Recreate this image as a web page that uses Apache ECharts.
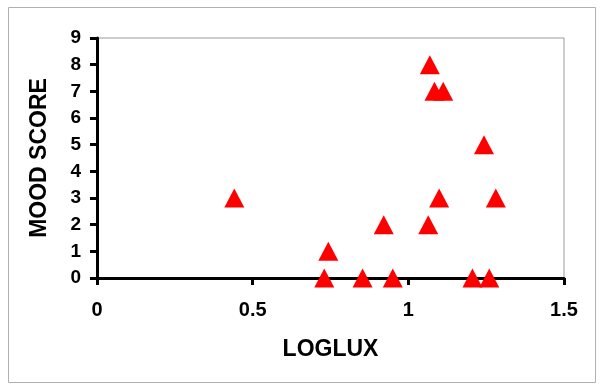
<!DOCTYPE html>
<html><head><meta charset="utf-8">
<script src="https://cdn.jsdelivr.net/npm/echarts@6/dist/echarts.min.js"></script>
<style>html,body{margin:0;padding:0;background:#fff}#c{width:600px;height:387px}</style>
</head><body><div id="c"></div>
<script>
const logLux = [0.441, 0.730, 0.743, 0.853, 0.921, 0.950, 1.064, 1.069, 1.084, 1.112, 1.099, 1.206, 1.243, 1.260, 1.281];
const moodScore = [3, 0, 1, 0, 2, 0, 2, 8, 7, 7, 3, 0, 5, 0, 3];
const xTicks = [0, 0.5, 1, 1.5];
const yTicks = [0, 1, 2, 3, 4, 5, 6, 7, 8, 9];

const chart = echarts.init(document.getElementById('c'));
const font = 'Liberation Sans, Arial, sans-serif';
chart.setOption({
  animation: false,
  graphic: [{type:'rect', shape:{x:8.5,y:7.5,width:587,height:375}, style:{fill:null, stroke:'#b0b0b0', lineWidth:1}, z:-1}],
  grid: {left: 97, right: 36, top: 38, bottom: 109, show: true, borderColor: '#999', borderWidth: 1, backgroundColor: '#fff'},
  xAxis: {
    type: 'value', min: xTicks[0], max: xTicks[xTicks.length-1], interval: 0.5,
    name: 'LOGLUX', nameLocation: 'middle', nameGap: 60,
    nameTextStyle: {fontFamily: font, fontWeight: 'bold', fontSize: 23, color: '#000'},
    axisLine: {show: true, lineStyle: {color: '#000', width: 3}},
    axisTick: {show: true, inside: false, length: 7, lineStyle: {color: '#000', width: 3}},
    axisLabel: {fontFamily: font, fontWeight: 'bold', fontSize: 20, color: '#000', margin: 22},
    splitLine: {show: false}
  },
  yAxis: {
    type: 'value', min: yTicks[0], max: yTicks[yTicks.length-1], interval: 1,
    name: 'MOOD SCORE', nameLocation: 'middle', nameGap: 46,
    nameTextStyle: {fontFamily: font, fontWeight: 'bold', fontSize: 23, color: '#000'},
    axisLine: {show: true, lineStyle: {color: '#000', width: 3}},
    axisTick: {show: true, inside: false, length: 7, lineStyle: {color: '#000', width: 3}},
    axisLabel: {fontFamily: font, fontWeight: 'bold', fontSize: 19, color: '#000', margin: 16},
    splitLine: {show: false}
  },
  series: [{
    type: 'scatter', clip: false, symbol: 'triangle', symbolSize: [20, 19],
    itemStyle: {color: '#ff0000', opacity: 1},
    data: logLux.map((x, i) => [x, moodScore[i]]),
    z: 5
  }]
});
</script></body></html>
